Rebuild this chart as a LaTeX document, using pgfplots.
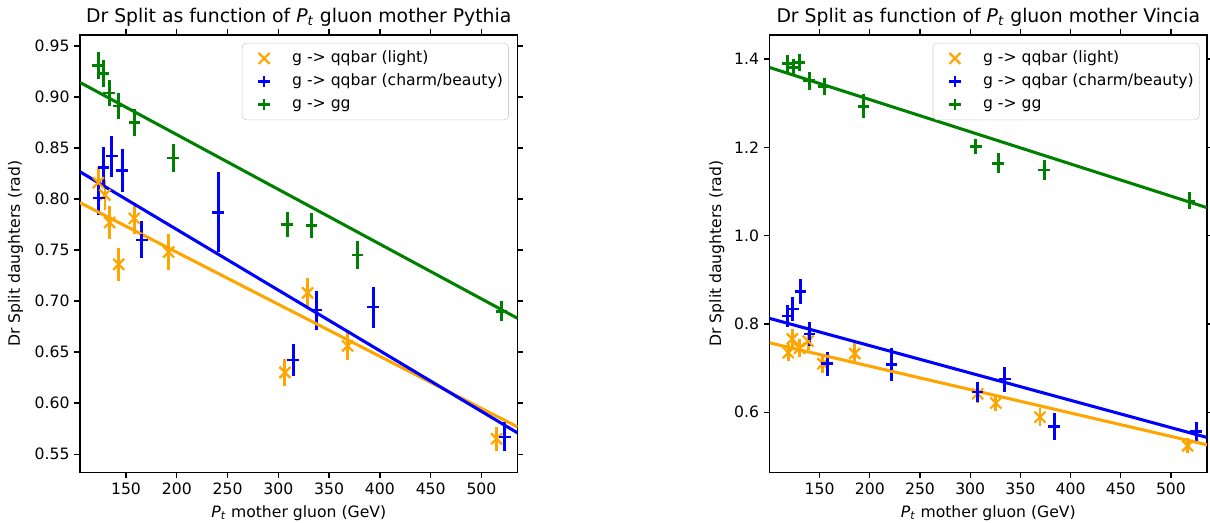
\documentclass[border=0pt]{standalone}
\usepackage{pgfplots}
\pgfplotsset{compat=1.18}
\usepackage{pgfplotstable}
\usepackage{fontspec}
\setmainfont{DejaVu Sans}
\definecolor{mplorange}{RGB}{255,165,0}
\definecolor{mplblue}{RGB}{0,0,255}
\definecolor{mplgreen}{RGB}{0,128,0}

% Pythia
\pgfplotstableread{
x y e
122.7 0.816 0.0155
129.3 0.804 0.015
133.9 0.777 0.016
142.8 0.736 0.016
158.1 0.781 0.015
192.0 0.748 0.018
306.5 0.630 0.013
328.8 0.708 0.015
368.2 0.656 0.014
514.9 0.565 0.012
}\pyLight
\pgfplotstableread{
x y e
123.2 0.801 0.017
128.0 0.831 0.020
135.9 0.842 0.020
146.1 0.828 0.021
165.5 0.760 0.018
240.8 0.787 0.039
314.7 0.642 0.0155
337.7 0.691 0.019
393.4 0.694 0.020
523.0 0.567 0.014
}\pyHeavy
\pgfplotstableread{
x y e
122.7 0.931 0.013
128.0 0.923 0.013
133.5 0.904 0.013
142.9 0.891 0.013
158.5 0.875 0.013
196.6 0.840 0.014
308.8 0.775 0.0125
332.7 0.774 0.0125
378.1 0.745 0.0135
519.8 0.690 0.010
}\pyGG
% Vincia
\pgfplotstableread{
x y e
118.8 0.735 0.020
122.8 0.766 0.022
130.0 0.745 0.020
138.5 0.761 0.020
153.3 0.710 0.020
185.0 0.733 0.023
307.4 0.642 0.020
325.6 0.621 0.018
369.5 0.589 0.021
516.6 0.524 0.017
}\viLight
\pgfplotstableread{
x y e
118.4 0.818 0.024
123.4 0.834 0.027
130.9 0.873 0.028
140.0 0.777 0.028
157.7 0.710 0.027
221.6 0.708 0.037
307.4 0.646 0.022
334.6 0.675 0.028
383.8 0.568 0.031
525.0 0.556 0.023
}\viHeavy
\pgfplotstableread{
x y e
118.4 1.390 0.019
124.4 1.381 0.020
130.0 1.392 0.020
139.5 1.351 0.020
154.6 1.338 0.020
193.7 1.293 0.027
305.7 1.202 0.018
328.0 1.164 0.023
373.6 1.149 0.022
518.5 1.079 0.019
}\viGG

\pgfplotsset{
  every axis title shift=0pt,
  myaxis/.style={
    scale only axis, width=315bp, height=315bp, anchor=south west,
    axis line style={line width=0.9bp, black},
    tick align=outside, major tick length=4bp,
    every tick/.style={black, line width=0.9bp},
    xticklabel pos=left, yticklabel pos=left,
    /pgf/number format/assume math mode=true,
    tick label style={font=\fontsize{11.3}{13.5}\selectfont, text=black},
    xtick={150,200,...,500},
    xticklabel style={/pgf/number format/.cd, fixed, 1000 sep={}},
    title style={at={(axis description cs:0.5,1.041)}, anchor=center, yshift=0pt,
      font=\fontsize{13.6}{16}\selectfont, text=black},
    xlabel={\textit{P}\textsubscript{\textit{t}} mother gluon (GeV)},
    ylabel={Dr Split daughters (rad)},
    xlabel style={at={(axis description cs:0.5,-0.0926)}, anchor=center},
    label style={font=\fontsize{11.3}{13.5}\selectfont, text=black},
    legend style={anchor=north east, draw=black!20, rounded corners=3bp,
      fill=white, fill opacity=0.8, text opacity=1,
      font=\fontsize{11.3}{13.5}\selectfont, text=black,
      nodes={inner sep=0pt, text height=8.5bp, text depth=2.5bp},
      row sep=5.6bp, column sep=4bp, inner xsep=4bp, inner ysep=5.5bp},
    legend cell align=left,
    legend image code/.code={%
      \path[draw=none, fill=none] (0bp,0bp) -- (28bp,0bp);
      \draw[##1] plot coordinates {(11.8bp,0bp)};},
    errpl/.style={only marks,
      error bars/.cd, y dir=both, y explicit, error mark=none,
      error bar style={line width=2.1bp}},
    plusm/.style={mark=+, mark size=4.2bp, mark options={line width=1.8bp}},
    crossm/.style={mark=x, mark size=5.6bp, mark options={line width=1.6bp}},
    fitl/.style={line width=2.2bp, no marks, forget plot},
  }
}

\begin{document}
\begin{tikzpicture}
\path[use as bounding box] (0,0) rectangle (871.2bp,376.56bp);
% ---------- Pythia ----------
\begin{axis}[myaxis, at={(57.6bp,36.36bp)},
  xmin=104.7, xmax=535.5, ymin=0.532, ymax=0.9607,
  ytick={0.55,0.60,...,0.951},
  yticklabel style={/pgf/number format/.cd, fixed, fixed zerofill, precision=2},
  title={Dr Split as function of \textit{P}\textsubscript{\textit{t}} gluon mother Pythia},
  ylabel style={at={(axis description cs:-0.147,0.5)}, anchor=center, rotate=0},
  legend style={at={(0.98,0.982)}},
]
\addplot[color=mplorange, crossm, errpl] table[x=x, y=y, y error=e] {\pyLight};
\addlegendentry{g -> qqbar (light)}
\addplot[color=mplblue, plusm, errpl] table[x=x, y=y, y error=e] {\pyHeavy};
\addlegendentry{g -> qqbar (charm/beauty)}
\addplot[color=mplgreen, plusm, errpl] table[x=x, y=y, y error=e] {\pyGG};
\addlegendentry{g -> gg}
\addplot[mplorange, fitl] coordinates {(104.7,0.7964) (535.5,0.5767)};
\addplot[mplblue, fitl] coordinates {(104.7,0.8267) (535.5,0.5708)};
\addplot[mplgreen, fitl] coordinates {(104.7,0.9142) (535.5,0.6831)};
\end{axis}
% ---------- Vincia ----------
\begin{axis}[myaxis, at={(554.04bp,36.36bp)},
  xmin=100.1, xmax=535.9, ymin=0.4636, ymax=1.4545,
  ytick={0.6,0.8,1.0,1.2,1.4},
  yticklabel style={/pgf/number format/.cd, fixed, fixed zerofill, precision=1},
  title={Dr Split as function of \textit{P}\textsubscript{\textit{t}} gluon mother Vincia},
  ylabel style={at={(axis description cs:-0.1207,0.5)}, anchor=center, rotate=0},
  legend style={at={(0.983,0.982)}},
]
\addplot[color=mplorange, crossm, errpl] table[x=x, y=y, y error=e] {\viLight};
\addlegendentry{g -> qqbar (light)}
\addplot[color=mplblue, plusm, errpl] table[x=x, y=y, y error=e] {\viHeavy};
\addlegendentry{g -> qqbar (charm/beauty)}
\addplot[color=mplgreen, plusm, errpl] table[x=x, y=y, y error=e] {\viGG};
\addlegendentry{g -> gg}
\addplot[mplorange, fitl] coordinates {(100.1,0.7573) (535.9,0.5264)};
\addplot[mplblue, fitl] coordinates {(100.1,0.8127) (535.9,0.5430)};
\addplot[mplgreen, fitl] coordinates {(100.1,1.381) (535.9,1.0634)};
\end{axis}
\end{tikzpicture}
\end{document}
